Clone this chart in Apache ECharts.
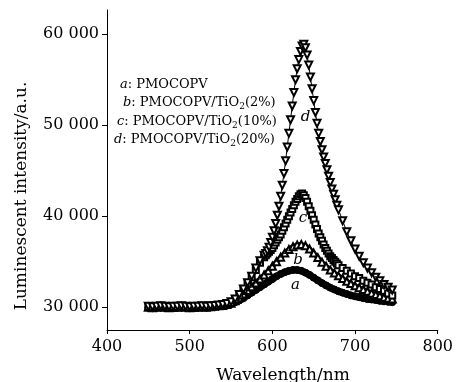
<!DOCTYPE html>
<html>
<head>
<meta charset="utf-8">
<script src="https://cdn.jsdelivr.net/npm/echarts@6/dist/echarts.min.js"></script>
<style>
  html, body { margin: 0; padding: 0; background: #fff; }
  #chart-container { width: 456px; height: 382px; }
</style>
</head>
<body>
<div id="chart-container"></div>
<script>
// 波长 (nm)：c、d 曲线在峰附近取点较密
const wavelengthDense = [
    450, 455, 460, 465, 470, 475, 480, 485, 490, 495, 500, 505, 510, 515, 520, 525, 530, 535, 540, 545,
    550, 555, 560, 565, 570, 575, 580, 585, 590,
    592, 594, 596, 598, 600, 602, 604, 606, 608, 610, 612, 614, 616, 618, 620, 622, 624, 626, 628, 630,
    632, 634, 636, 638, 640, 642, 644, 646, 648, 650, 652, 654, 656, 658, 660, 662, 664, 666, 668, 670,
    672, 674, 676, 678, 680,
    685, 690, 695, 700, 705, 710, 715, 720, 725, 730, 735, 740, 745
];
const wavelength = [
    450, 455, 460, 465, 470, 475, 480, 485, 490, 495, 500, 505, 510, 515, 520, 525, 530, 535, 540, 545,
    550, 555, 560, 565, 570, 575, 580, 585, 590, 595, 600, 605, 610, 615, 620, 625, 630, 635, 640, 645,
    650, 655, 660, 665, 670, 675, 680, 685, 690, 695, 700, 705, 710, 715, 720, 725, 730, 735, 740, 745
];

// d: PMOCOPV/TiO2(20%)
const intensityD = [
    30100, 30050, 30100, 30150, 30100, 30050, 30100, 30100, 30150, 30100, 30050, 30100, 30100, 30150, 30100, 30150, 30200, 30250, 30300, 30400,
    30600, 30900, 31400, 32000, 32700, 33400, 34300, 35100, 35700,
    35900, 36200, 36600, 37100, 37700, 38400, 39200, 40100, 41100, 42200, 43400, 44700, 46100, 47600, 49100, 50600, 52100, 53600, 55000, 56200,
    57200, 58100, 58700, 58900, 58500, 57700, 56600, 55300, 54000, 52700, 51400, 50200, 49100, 48200, 47300, 46500, 45800, 45100, 44400, 43700,
    43000, 42400, 41800, 41200, 40700,
    39500, 38300, 37300, 36400, 35600, 34900, 34300, 33800, 33300, 32900, 32500, 32200, 31900
];
// c: PMOCOPV/TiO2(10%)
const intensityC = [
    30050, 30000, 30050, 30100, 30050, 30000, 30050, 30050, 30100, 30050, 30000, 30050, 30050, 30100, 30050, 30100, 30150, 30200, 30250, 30350,
    30500, 30800, 31300, 31900, 32600, 33300, 34100, 34900, 35500,
    35700, 35900, 36100, 36300, 36500, 36800, 37100, 37400, 37700, 38000, 38400, 38800, 39200, 39600, 40000, 40400, 40800, 41200, 41600, 41900,
    42200, 42400, 42500, 42300, 42000, 41600, 41100, 40600, 40100, 39600, 39100, 38600, 38100, 37700, 37300, 36900, 36500, 36200, 35900, 35600,
    35400, 35200, 35000, 34800, 34600,
    34300, 34000, 33700, 33400, 33200, 32900, 32700, 32500, 32200, 32000, 31800, 31500, 31300
];
// b: PMOCOPV/TiO2(2%)
const intensityB = [
    30000, 29950, 30000, 30050, 30000, 29950, 30000, 30000, 30050, 30000, 29950, 30000, 30000, 30050, 30000, 30050, 30100, 30150, 30200, 30300,
    30450, 30700, 31050, 31450, 31850, 32250, 32650, 33100, 33550, 34000, 34500, 35000, 35500, 35950, 36350, 36650, 36850, 36900, 36750, 36400,
    35950, 35450, 34950, 34500, 34100, 33750, 33450, 33150, 32850, 32600, 32350, 32150, 31950, 31750, 31550, 31400, 31250, 31100, 31000, 30900
];
// a: PMOCOPV
const intensityA = [
    29950, 29900, 29950, 30000, 29950, 29900, 29950, 29950, 30000, 29950, 29900, 29950, 29950, 30000, 29950, 30000, 30050, 30100, 30150, 30250,
    30350, 30550, 30750, 31000, 31300, 31600, 31900, 32200, 32500, 32800, 33100, 33400, 33650, 33850, 34000, 34100, 34100, 34000, 33800, 33550,
    33250, 32950, 32650, 32400, 32150, 31950, 31750, 31600, 31450, 31300, 31200, 31100, 31000, 30900, 30850, 30800, 30700, 30650, 30600, 30550
];

const yTicks = [30000, 40000, 50000, 60000];
const legendKeys = ["a", "b", "c", "d"];
const legendNames = ["PMOCOPV", "PMOCOPV/TiO{s|2}(2%)", "PMOCOPV/TiO{s|2}(10%)", "PMOCOPV/TiO{s|2}(20%)"];
// 曲线旁的字母标注 [波长, 强度]
const curveLabels = [["d", 640, 50900], ["c", 637, 39800], ["b", 631, 35200], ["a", 628, 32400]];

const font = "DejaVu Serif";
const chart = echarts.init(document.getElementById("chart-container"));

function pairs(xs, ys) {
    return xs.map((x, i) => [x, ys[i]]);
}

function makeSeries(name, xs, ys, symbol, size, lineWidth, extra) {
    return Object.assign({
        name: name,
        type: "line",
        data: pairs(xs, ys),
        symbol: symbol,
        symbolSize: size,
        showAllSymbol: true,
        lineStyle: { color: "#000", width: lineWidth },
        itemStyle: { color: "#000", borderColor: "#000", borderWidth: 1 },
        emphasis: { disabled: true }
    }, extra || {});
}

const options = {
    animation: false,
    grid: { left: 107, right: 18, top: 10, bottom: 52 },
    xAxis: {
        type: "value",
        min: 400,
        max: 800,
        interval: 100,
        splitLine: { show: false },
        axisLine: { lineStyle: { color: "#000", width: 1 } },
        axisTick: { length: 4, lineStyle: { color: "#000" } },
        axisLabel: { color: "#000", fontFamily: font, fontSize: 16, margin: 9 }
    },
    yAxis: {
        type: "value",
        min: 27500,
        max: 62650,
        splitLine: { show: false },
        axisLine: { show: true, lineStyle: { color: "#000", width: 1 } },
        axisTick: { show: true, length: 5, customValues: yTicks, lineStyle: { color: "#000" } },
        axisLabel: {
            color: "#000", fontFamily: font, fontSize: 16, margin: 8,
            customValues: yTicks,
            formatter: v => (v / 1000) + " 000"
        }
    },
    series: [
        makeSeries("a", wavelength, intensityA, "circle", 7, 7),
        makeSeries("b", wavelength, intensityB, "emptyTriangle", 7, 5),
        makeSeries("c", wavelengthDense, intensityC, "emptyRect", 6, 1),
        makeSeries("d", wavelengthDense, intensityD, "emptyTriangle", 7, 1, { symbolRotate: 180 })
    ]
};
chart.setOption(options);

// 图例文字与坐标轴名称
const legendPos = [[120, 85], [123, 103], [117, 122], [114, 140]];
const graphics = legendKeys.map((k, i) => ({
    type: "text",
    x: legendPos[i][0],
    y: legendPos[i][1],
    style: {
        text: "{i|" + k + "}: " + legendNames[i],
        fill: "#000",
        font: "13px " + font,
        verticalAlign: "middle",
        rich: {
            i: { fontStyle: "italic", fontFamily: font, fontSize: 13 },
            s: { fontFamily: font, fontSize: 9, padding: [8, 0, 0, 0] }
        }
    }
}));
curveLabels.forEach(l => {
    const p = chart.convertToPixel({ gridIndex: 0 }, [l[1], l[2]]);
    graphics.push({
        type: "text",
        x: p[0],
        y: p[1],
        style: {
            text: l[0], fill: "#000", font: "italic 15px " + font,
            align: "center", verticalAlign: "middle"
        }
    });
});
graphics.push({
    type: "text", x: 283, y: 376,
    style: { text: "Wavelength/nm", fill: "#000", font: "17px " + font, align: "center", verticalAlign: "middle" }
});
graphics.push({
    type: "text", x: 22, y: 196, rotation: Math.PI / 2,
    style: { text: "Luminescent intensity/a.u.", fill: "#000", font: "17px " + font, align: "center", verticalAlign: "middle" }
});
chart.setOption({ graphic: graphics });
</script>
</body>
</html>
